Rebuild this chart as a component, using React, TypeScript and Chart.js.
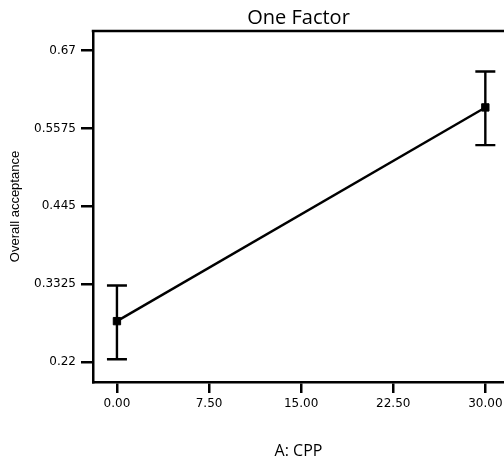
import React, { useEffect, useRef } from 'react';
import { Chart, registerables } from 'chart.js';

Chart.register(...registerables);

// ---- data ----
const xValues = [0, 30];
const meanValues = [0.279, 0.588];
const lowerValues = [0.224, 0.5335];
const upperValues = [0.3305, 0.64];
const xTickValues = [0, 7.5, 15, 22.5, 30];
const xTickLabels = ['0.00', '7.50', '15.00', '22.50', '30.00'];
const yTickValues = [0.22, 0.3325, 0.445, 0.5575, 0.67];
const yTickLabels = ['0.22', '0.3325', '0.445', '0.5575', '0.67'];

const errorBarPlugin = {
  id: 'errorBars',
  beforeDatasetsDraw(chart: any) {
    const { ctx, scales } = chart;
    const x = scales.x;
    const y = scales.y;
    ctx.save();
    ctx.strokeStyle = '#000';
    ctx.lineWidth = 2.4;
    xValues.forEach((xv, i) => {
      const px = x.getPixelForValue(xv);
      const top = y.getPixelForValue(upperValues[i]);
      const bot = y.getPixelForValue(lowerValues[i]);
      ctx.beginPath();
      ctx.moveTo(px, top);
      ctx.lineTo(px, bot);
      ctx.moveTo(px - 10, top);
      ctx.lineTo(px + 10, top);
      ctx.moveTo(px - 10, bot);
      ctx.lineTo(px + 10, bot);
      ctx.stroke();
    });
    ctx.restore();
  },
};

const topBorderPlugin = {
  id: 'topBorder',
  afterDraw(chart: any) {
    const { ctx, chartArea } = chart;
    ctx.save();
    ctx.strokeStyle = '#000';
    ctx.lineWidth = 2.5;
    ctx.beginPath();
    ctx.moveTo(chartArea.left - 1.25, chartArea.top);
    ctx.lineTo(chartArea.right, chartArea.top);
    ctx.stroke();
    ctx.restore();
  },
};

export default function App() {
  const ref = useRef<HTMLCanvasElement | null>(null);

  useEffect(() => {
    if (!ref.current) return;
    const chart = new Chart(ref.current, {
      type: 'scatter',
      data: {
        datasets: [
          {
            data: xValues.map((xv, i) => ({ x: xv, y: meanValues[i] })),
            showLine: true,
            borderColor: '#000',
            borderWidth: 2.4,
            pointStyle: 'rect',
            pointRadius: 5.2,
            pointBackgroundColor: '#000',
            pointBorderColor: '#000',
            pointBorderWidth: 1,
          },
        ],
      },
      options: {
        animation: false,
        responsive: true,
        maintainAspectRatio: false,
        layout: { padding: 0, autoPadding: false },
        plugins: {
          legend: { display: false },
          tooltip: { enabled: false },
          title: {
            display: true,
            text: 'One Factor',
            fullSize: false,
            color: '#000',
            font: { family: 'Open Sans', size: 20, weight: 'normal', lineHeight: 1.2 },
            padding: { top: 6, bottom: 1 },
          },
        },
        scales: {
          x: {
            type: 'linear',
            position: 'bottom',
            min: -1.95,
            max: 31.52,
            afterBuildTicks: (s: any) => {
              s.ticks = xTickValues.map((v) => ({ value: v }));
            },
            afterFit: (s: any) => {
              s.height = 77;
              s.paddingLeft = 0;
              s.paddingRight = 0;
            },
            ticks: {
              color: '#000',
              padding: 4,
              maxRotation: 0,
              autoSkip: false,
              font: { family: 'DejaVu Sans', size: 12 },
              callback: (v: any) => {
                const i = xTickValues.indexOf(Number(v));
                return i >= 0 ? xTickLabels[i] : '';
              },
            },
            grid: {
              drawOnChartArea: false,
              drawTicks: true,
              tickLength: 11,
              lineWidth: 2.5,
              color: '#000',
            },
            border: { display: true, width: 2.5, color: '#000' },
            title: {
              display: true,
              text: 'A: CPP',
              color: '#000',
              font: { family: 'Open Sans', size: 16, lineHeight: 1 },
              padding: { top: 0, bottom: 0 },
            },
          },
          y: {
            type: 'linear',
            position: 'left',
            min: 0.191,
            max: 0.6985,
            afterBuildTicks: (s: any) => {
              s.ticks = yTickValues.map((v) => ({ value: v }));
            },
            afterFit: (s: any) => {
              s.width = 93;
              s.paddingTop = 0;
              s.paddingBottom = 0;
            },
            ticks: {
              color: '#000',
              padding: 5,
              autoSkip: false,
              font: { family: 'DejaVu Sans', size: 12 },
              callback: (v: any) => {
                const i = yTickValues.indexOf(Number(v));
                return i >= 0 ? yTickLabels[i] : '';
              },
            },
            grid: {
              drawOnChartArea: false,
              drawTicks: true,
              tickLength: 12,
              lineWidth: 2.5,
              color: '#000',
            },
            border: { display: true, width: 2.5, color: '#000' },
            title: {
              display: true,
              text: 'Overall acceptance',
              color: '#000',
              font: { family: 'Liberation Sans', size: 13, lineHeight: 1.2 },
              padding: { top: 8, bottom: 0 },
            },
          },
        },
      },
      plugins: [errorBarPlugin, topBorderPlugin],
    } as any);
    return () => chart.destroy();
  }, []);

  return (
    <div style={{ position: 'absolute', left: 0, top: 0, width: 504, height: 459 }}>
      <canvas ref={ref} />
    </div>
  );
}
